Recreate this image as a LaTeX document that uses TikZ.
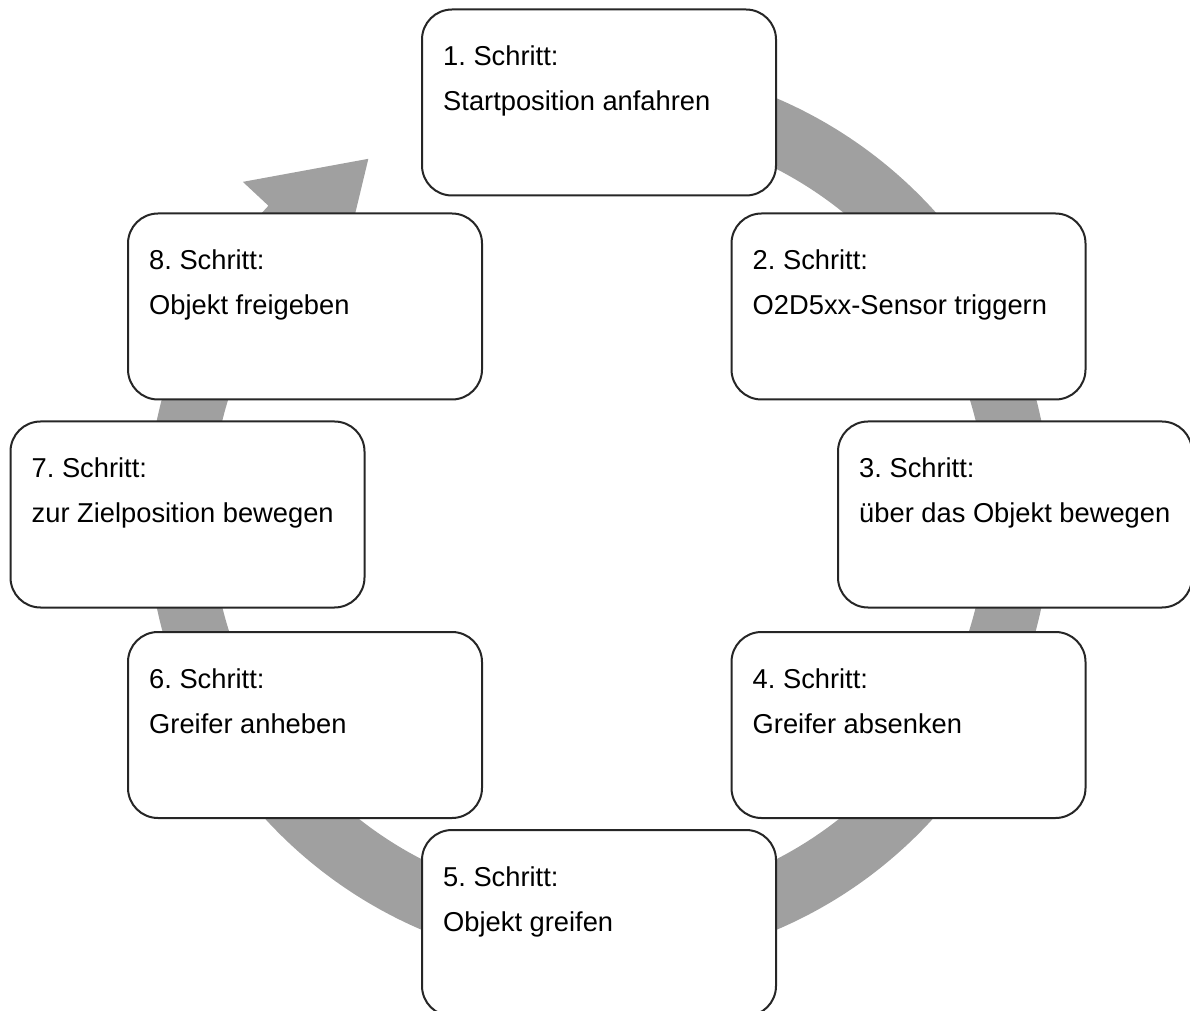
\documentclass[tikz,border=0pt]{standalone}
\usepackage{fontspec}
\setmainfont{Liberation Sans}
\usetikzlibrary{calc}
\frenchspacing
\definecolor{ringgray}{RGB}{160,160,160}
\definecolor{boxline}{RGB}{38,38,38}
\tikzset{
  stepbox/.style={draw=boxline, line width=2pt, fill=white, rounded corners=30pt,
    minimum width=354pt, minimum height=186pt, inner sep=0pt},
  steptext/.style={anchor=base west, inner sep=0pt, font=\fontsize{27.3}{31}\selectfont}
}
\begin{document}
\begin{tikzpicture}[x=1pt,y=1pt]
\useasboundingbox (0,0) rectangle (1190,1010);
\coordinate (C) at (599,496);
% ring with arrowhead
\fill[ringgray] ($(C)+(100:452)$) arc[start angle=100, end angle=-223, radius=452]
  -- ($(C)+(137:487)$) -- ($(C)+(123:423.5)$) -- ($(C)+(137:353)$)
  -- ($(C)+(137:388)$) arc[start angle=-223, end angle=100, radius=388] -- cycle;
% boxes
\node[stepbox] (s1) at (599,907.5) {};
\node[stepbox] (s2) at (908.5,703.5) {};
\node[stepbox] (s3) at (1015,495.5) {};
\node[stepbox] (s4) at (908.5,285) {};
\node[stepbox] (s5) at (599,87) {};
\node[stepbox] (s6) at (305,285) {};
\node[stepbox] (s7) at (187.5,495.5) {};
\node[stepbox] (s8) at (305,703.5) {};
% texts
\foreach \n/\a/\b in {1/Startposition anfahren, 2/O2D5xx-Sensor triggern,
  3/über das Objekt bewegen, 4/Greifer absenken, 5/Objekt greifen,
  6/Greifer anheben, 7/zur Zielposition bewegen, 8/Objekt freigeben}{
  \node[steptext] (h\n) at ($(s\n.north west)+(22,-57)$) {\n. Schritt:};
  \node[steptext] (d\n) at ($(s\n.north west)+(22,-102)$) {\b};
}
\end{tikzpicture}
\end{document}
